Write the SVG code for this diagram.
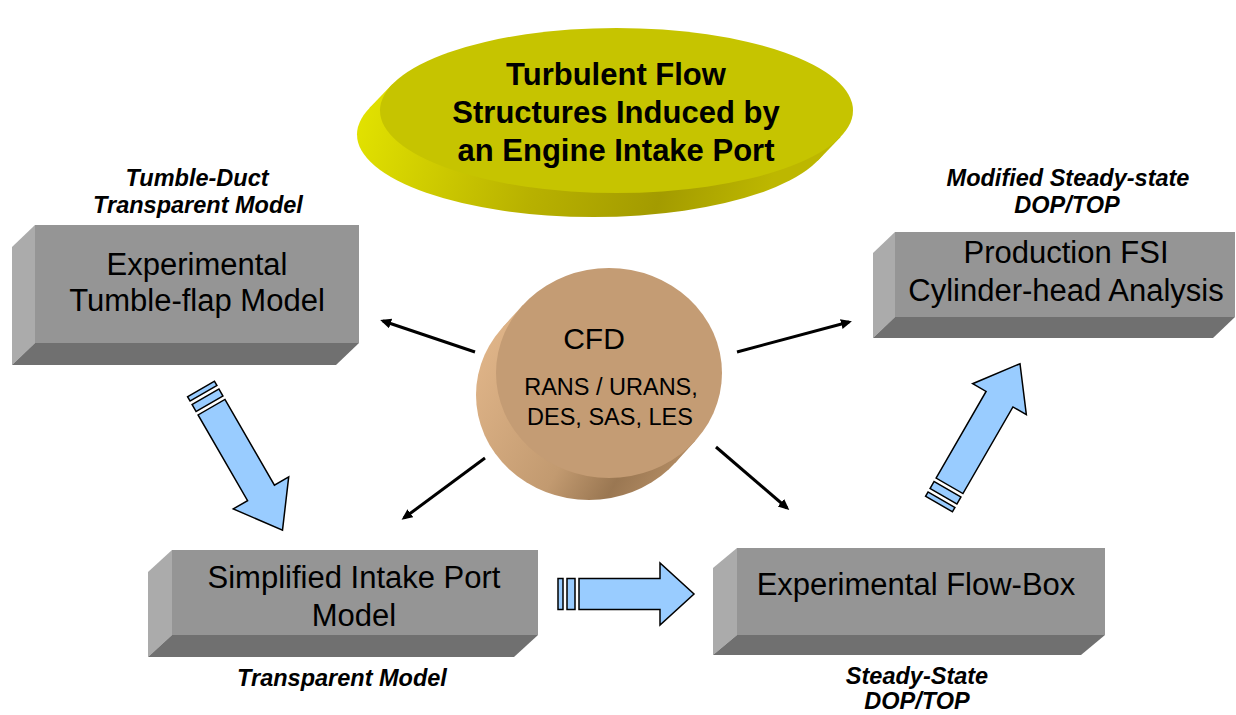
<svg xmlns="http://www.w3.org/2000/svg" width="1236" height="715" viewBox="0 0 1236 715">
  <style>
    .front{fill:#959595}
    .lside{fill:#ababab}
    .bside{fill:#707070}
    .boxtxt{font-family:"Liberation Sans",Arial,sans-serif;font-size:31px;fill:#000;text-anchor:middle}
    .lbl{font-family:"Liberation Sans",Arial,sans-serif;font-size:23.5px;font-weight:bold;font-style:italic;fill:#000;text-anchor:middle}
    .title{font-family:"Liberation Sans",Arial,sans-serif;font-size:31px;font-weight:bold;fill:#000;text-anchor:middle}
    .cfd{font-family:"Liberation Sans",Arial,sans-serif;fill:#000;text-anchor:middle}
    .blk{fill:#99ccff;stroke:#000;stroke-width:1.5;stroke-linejoin:miter}
    .conn{stroke:#000;stroke-width:3;fill:none;marker-end:url(#ah)}
  </style>
  <defs>
    <marker id="ah" markerUnits="userSpaceOnUse" markerWidth="14" markerHeight="12" refX="8" refY="5" orient="auto">
      <path d="M0,0 L11,5 L0,10 Z" fill="#000"/>
    </marker>
    <linearGradient id="ySide" gradientUnits="userSpaceOnUse" x1="360" y1="110" x2="760" y2="225">
      <stop offset="0" stop-color="#e2e200"/>
      <stop offset="0.45" stop-color="#b8b100"/>
      <stop offset="0.75" stop-color="#a39b00"/>
      <stop offset="1" stop-color="#bdb700"/>
    </linearGradient>
    <linearGradient id="cSide" gradientUnits="userSpaceOnUse" x1="480" y1="350" x2="700" y2="480">
      <stop offset="0" stop-color="#dfb488"/>
      <stop offset="0.5" stop-color="#c29a70"/>
      <stop offset="0.72" stop-color="#9a7752"/>
      <stop offset="1" stop-color="#bf966c"/>
    </linearGradient>
  </defs>

  <g id="title-node">
    <ellipse cx="593.5" cy="134.5" rx="236.5" ry="82.5" fill="url(#ySide)"/>
    <polygon points="840.8,136.7 817.8,160.7 369.2,108.3 392.2,84.3" fill="url(#ySide)"/>
    <ellipse cx="616.5" cy="110.5" rx="236.5" ry="82.5" fill="#c6c400"/>
    <text class="title" x="616" y="85">Turbulent Flow</text>
    <text class="title" x="616" y="123">Structures Induced by</text>
    <text class="title" x="616" y="161">an Engine Intake Port</text>
  </g>

  <g id="cfd-node">
    <ellipse cx="589" cy="395" rx="113" ry="105" fill="url(#cSide)"/>
    <polygon points="695.3,440.8 675.3,462.8 502.7,327.2 522.7,305.2" fill="url(#cSide)"/>
    <ellipse cx="609" cy="373" rx="113" ry="105" fill="#c49c74"/>
    <text class="cfd" x="594" y="349" font-size="30">CFD</text>
    <text class="cfd" x="611" y="395" font-size="23.5">RANS / URANS,</text>
    <text class="cfd" x="610" y="425" font-size="23.5">DES, SAS, LES</text>
  </g>

  <g id="tumble-flap-node">
    <polygon class="lside" points="35,225 12,247 12,365 35,343"/>
    <polygon class="bside" points="35,343 359,343 336,365 12,365"/>
    <rect class="front" x="35" y="225" width="324" height="118"/>
    <text class="boxtxt" x="197" y="275" font-size="30.5">Experimental</text>
    <text class="boxtxt" x="197" y="311" font-size="30.5">Tumble-flap Model</text>
    <text class="lbl" x="197" y="186">Tumble-Duct</text>
    <text class="lbl" x="198" y="213">Transparent Model</text>
  </g>

  <g id="production-node">
    <polygon class="lside" points="895,232 873,253 873,338 895,317"/>
    <polygon class="bside" points="895,317 1235,317 1213,338 873,338"/>
    <rect class="front" x="895" y="232" width="340" height="85"/>
    <text class="boxtxt" x="1066" y="263">Production FSI</text>
    <text class="boxtxt" x="1066" y="301">Cylinder-head Analysis</text>
    <text class="lbl" x="1068" y="186">Modified Steady-state</text>
    <text class="lbl" x="1067" y="213">DOP/TOP</text>
  </g>

  <g id="simplified-node">
    <polygon class="lside" points="172,550 148,572 148,657 172,635"/>
    <polygon class="bside" points="172,635 538,635 514,657 148,657"/>
    <rect class="front" x="172" y="550" width="366" height="85"/>
    <text class="boxtxt" x="354" y="588">Simplified Intake Port</text>
    <text class="boxtxt" x="354" y="626">Model</text>
    <text class="lbl" x="342" y="686">Transparent Model</text>
  </g>

  <g id="flowbox-node">
    <polygon class="lside" points="737,548 713,568 713,655 737,635"/>
    <polygon class="bside" points="737,635 1105,635 1081,655 713,655"/>
    <rect class="front" x="737" y="548" width="368" height="87"/>
    <text class="boxtxt" x="916" y="595">Experimental Flow-Box</text>
    <text class="lbl" x="917" y="684" font-size="22">Steady-State</text>
    <text class="lbl" x="917" y="709" font-size="22">DOP/TOP</text>
  </g>

  <g id="connectors">
    <line class="conn" x1="475" y1="352" x2="383" y2="321"/>
    <line class="conn" x1="737" y1="352" x2="849" y2="322"/>
    <line class="conn" x1="485" y1="458" x2="404" y2="518"/>
    <line class="conn" x1="716" y1="447" x2="787" y2="508"/>
    <g id="block-arrow-down" transform="translate(201,389) rotate(60)">
      <rect class="blk" x="0" y="-15.5" width="5" height="31"/>
      <rect class="blk" x="9" y="-15.5" width="8" height="31"/>
      <path class="blk" d="M21,-15.5 H120 V-32 L163,0 L120,32 V15.5 H21 Z"/>
    </g>
    <g id="block-arrow-right" transform="translate(558,594)">
      <rect class="blk" x="0" y="-15.5" width="5" height="31"/>
      <rect class="blk" x="9" y="-15.5" width="8" height="31"/>
      <path class="blk" d="M21,-15.5 H102 V-31 L136,0 L102,31 V15.5 H21 Z"/>
    </g>
    <g id="block-arrow-up" transform="translate(939,504) rotate(-60)">
      <rect class="blk" x="0" y="-15.5" width="5" height="31"/>
      <rect class="blk" x="9" y="-15.5" width="8" height="31"/>
      <path class="blk" d="M21,-15.5 H121 V-31 L162,0 L121,31 V15.5 H21 Z"/>
    </g>
  </g>
</svg>
